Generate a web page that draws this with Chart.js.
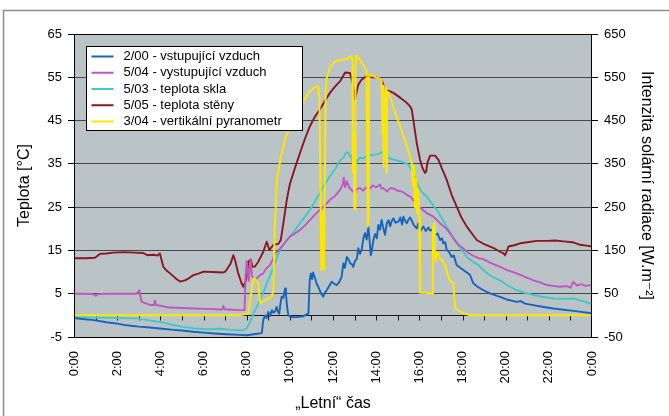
<!DOCTYPE html>
<html>
<head>
<meta charset="utf-8">
<script src="https://cdn.jsdelivr.net/npm/chart.js@4.4.1/dist/chart.umd.min.js"></script>
<style>
  html, body { margin: 0; padding: 0; background: #fff; }
  canvas { display: block; }
</style>
</head>
<body>
<canvas id="chart" width="669" height="416"></canvas>
<script>
// Measured day profile: [hour, value] readings per sensor
const timeLabels = ['0:00', '2:00', '4:00', '6:00', '8:00', '10:00', '12:00', '14:00', '16:00', '18:00', '20:00', '22:00', '0:00'];

const seriesNames = [
  '2/00 - vstupující vzduch',
  '5/04 - vystupující vzduch',
  '5/03 - teplota skla',
  '5/05 - teplota stěny',
  '3/04 - vertikální pyranometr'
];

// 2/00 intake air temperature [°C]
const intakeAir = [[0,-0.6],[0.5,-0.9],[0.93,-1.1],[1.5,-1.6],[2.0,-1.9],[2.44,-2.3],[3.0,-2.6],[3.5,-2.8],[3.98,-3.05],[4.5,-3.3],[5.0,-3.5],[5.53,-3.8],[6.0,-4.0],[6.5,-4.2],[7.07,-4.37],[7.7,-4.5],[8.0,-4.6],[8.4,-4.3],[8.7,-4.1],[8.77,-1.1],[8.85,0.0],[8.92,-0.6],[9.0,0.8],[9.08,-0.2],[9.17,1.2],[9.24,0.6],[9.32,1.0],[9.39,1.95],[9.45,0.8],[9.51,0.4],[9.56,2.5],[9.62,4.3],[9.7,4.0],[9.78,6.2],[9.82,5.0],[9.86,2.5],[9.93,0.0],[10.08,-0.4],[10.3,-0.4],[10.63,-0.2],[10.8,0.3],[10.86,0.4],[10.92,8.0],[10.97,9.7],[11.03,8.4],[11.08,9.9],[11.17,8.5],[11.25,7.2],[11.32,6.6],[11.45,5.0],[11.55,4.3],[11.63,5.3],[11.71,5.8],[11.8,6.6],[11.94,7.75],[12.05,7.3],[12.17,7.0],[12.28,7.6],[12.4,8.9],[12.48,12.0],[12.55,11.0],[12.64,13.5],[12.71,13.0],[12.8,12.0],[12.88,11.8],[12.94,11.2],[13.02,12.6],[13.1,13.0],[13.17,15.5],[13.25,14.2],[13.33,15.2],[13.41,17.8],[13.48,19.0],[13.56,17.5],[13.64,20.5],[13.7,17.0],[13.75,13.9],[13.8,15.0],[13.87,17.4],[13.95,18.8],[14.03,17.8],[14.1,20.9],[14.18,19.8],[14.25,22.05],[14.33,20.2],[14.41,18.6],[14.49,21.2],[14.57,22.0],[14.65,20.6],[14.72,21.8],[14.8,22.4],[14.9,21.4],[15.03,21.65],[15.12,22.6],[15.2,21.0],[15.26,22.8],[15.34,21.8],[15.42,21.3],[15.5,22.2],[15.57,22.6],[15.65,21.9],[15.75,20.8],[15.88,20.1],[15.95,21.2],[16.03,19.3],[16.1,19.9],[16.19,20.5],[16.3,19.5],[16.42,20.3],[16.5,19.6],[16.6,19.8],[16.73,18.6],[16.85,18.9],[16.96,17.4],[17.05,17.8],[17.11,16.65],[17.2,16.9],[17.27,15.1],[17.38,14.6],[17.5,13.5],[17.6,13.8],[17.73,11.6],[17.9,11.0],[18.04,10.5],[18.2,9.9],[18.35,9.3],[18.5,7.4],[18.7,6.6],[18.97,5.8],[19.3,5.0],[19.74,4.27],[20.1,3.6],[20.51,3.1],[20.7,3.3],[20.9,2.7],[21.28,2.35],[21.7,2.0],[22.21,1.58],[22.7,1.3],[23.14,1.03],[23.5,0.8],[23.9,0.56],[24,0.5]];

// 5/04 exhaust air temperature [°C]
const exhaustAir = [[0,5.0],[0.4,5.0],[0.9,4.9],[1.0,4.5],[1.1,4.9],[1.6,5.0],[2.2,5.0],[2.9,5.0],[3.03,5.8],[3.08,4.2],[3.14,3.1],[3.52,2.4],[3.7,2.4],[3.75,3.4],[3.8,2.4],[4.45,1.8],[5.0,1.7],[5.53,1.6],[6.2,1.5],[6.77,1.35],[6.88,1.4],[6.92,2.2],[6.97,1.4],[7.3,1.3],[7.69,1.2],[7.9,1.2],[7.95,9.0],[8.0,12.5],[8.05,10.0],[8.1,8.0],[8.18,12.8],[8.25,9.0],[8.35,8.5],[8.46,8.5],[8.6,9.2],[8.77,9.7],[8.9,10.8],[9.08,11.6],[9.2,12.8],[9.31,14.3],[9.45,14.8],[9.62,15.9],[9.8,17.0],[10.0,18.2],[10.2,18.8],[10.47,19.7],[10.7,20.8],[10.94,22.05],[11.15,23.2],[11.4,24.4],[11.6,25.3],[11.86,26.7],[12.1,27.6],[12.33,29.0],[12.45,30.2],[12.5,31.8],[12.56,29.6],[12.64,31.0],[12.75,29.5],[12.85,29.0],[13.02,28.2],[13.1,29.2],[13.25,29.4],[13.4,28.8],[13.55,29.6],[13.7,29.2],[13.85,30.0],[14.0,29.6],[14.18,30.2],[14.25,29.3],[14.33,29.4],[14.5,28.6],[14.65,29.4],[14.8,29.3],[15.0,28.8],[15.2,28.6],[15.42,27.85],[15.6,27.4],[15.88,25.5],[16.1,24.7],[16.34,23.6],[16.65,22.8],[16.96,21.3],[17.2,20.3],[17.42,19.0],[17.58,17.8],[17.8,16.4],[18.0,15.6],[18.2,14.7],[18.4,14.0],[18.74,13.2],[18.97,13.0],[19.3,12.1],[19.74,11.2],[20.1,10.4],[20.51,9.7],[20.9,8.9],[21.28,8.1],[21.6,7.6],[21.9,7.0],[22.2,6.8],[22.5,6.6],[22.83,6.75],[23.0,6.4],[23.14,7.75],[23.3,6.9],[23.5,7.2],[23.7,6.8],[23.9,7.0],[24,6.8]];

// 5/03 glass temperature [°C]
const glassTemp = [[0,-0.3],[0.5,-0.4],[1.0,-0.5],[1.5,-0.5],[2.0,-0.6],[2.9,-0.7],[3.4,-1.1],[3.98,-1.5],[4.5,-2.1],[5.0,-2.6],[5.53,-3.0],[6.2,-3.2],[6.77,-3.1],[7.2,-3.3],[7.69,-3.45],[7.85,-3.4],[8.0,-3.0],[8.15,-1.6],[8.31,0.4],[8.54,2.7],[8.75,5.0],[8.93,7.4],[9.1,9.4],[9.24,11.2],[9.4,13.3],[9.55,15.1],[9.75,16.6],[10.0,18.2],[10.2,19.4],[10.47,21.3],[10.7,22.8],[10.94,24.4],[11.15,26.2],[11.4,28.4],[11.55,29.8],[11.71,31.0],[11.86,32.1],[12.1,33.8],[12.33,35.8],[12.5,36.5],[12.6,37.6],[12.71,37.6],[12.8,36.6],[12.86,37.0],[12.94,34.4],[12.97,34.0],[13.05,35.0],[13.17,36.0],[13.25,36.4],[13.4,36.3],[13.56,36.8],[13.7,37.0],[13.87,37.1],[14.02,37.2],[14.15,37.4],[14.33,37.8],[14.45,36.8],[14.57,36.4],[14.8,36.0],[15.11,35.6],[15.3,35.3],[15.49,34.8],[15.6,34.0],[15.72,32.9],[15.85,31.2],[15.96,29.8],[16.1,28.6],[16.34,27.45],[16.55,26.0],[16.81,24.4],[17.05,22.4],[17.27,20.5],[17.5,18.5],[17.73,16.65],[18.0,14.9],[18.2,13.5],[18.45,12.5],[18.74,11.6],[19.0,10.3],[19.3,9.1],[19.74,8.1],[20.1,6.9],[20.51,5.8],[20.9,5.2],[21.28,4.7],[21.7,4.3],[22.21,3.9],[22.7,3.8],[23.14,3.9],[23.5,3.4],[23.9,2.8],[24,2.7]];

// 5/05 wall temperature [°C]
const wallTemp = [[0,13.2],[0.5,13.2],[0.97,13.3],[1.2,14.2],[1.5,14.3],[1.8,14.5],[2.3,14.6],[2.8,14.5],[3.2,14.4],[3.4,13.9],[3.7,14.0],[3.85,13.8],[3.98,14.3],[4.14,11.2],[4.3,10.3],[4.45,9.7],[4.7,8.6],[4.91,7.8],[5.14,8.1],[5.3,8.5],[5.53,9.3],[5.8,9.7],[6.0,10.1],[6.4,10.0],[6.92,9.9],[7.0,10.1],[7.08,10.6],[7.25,11.9],[7.38,13.9],[7.46,12.8],[7.61,9.7],[7.75,7.6],[7.85,6.6],[7.97,8.1],[8.08,12.4],[8.19,12.9],[8.27,11.2],[8.38,11.3],[8.54,12.4],[8.77,14.7],[8.93,17.0],[9.05,15.1],[9.24,16.3],[9.47,16.5],[9.58,17.4],[9.7,21.3],[9.86,26.7],[10.0,30.3],[10.2,33.5],[10.47,37.5],[10.7,40.8],[10.93,43.7],[11.15,45.8],[11.4,47.6],[11.63,49.6],[11.86,51.4],[12.1,52.9],[12.33,54.1],[12.56,56.1],[12.79,56.0],[12.91,53.7],[13.02,49.9],[13.17,53.3],[13.33,54.5],[13.56,55.3],[13.79,55.0],[14.02,55.0],[14.25,54.5],[14.35,53.0],[14.41,51.8],[14.57,51.9],[14.8,51.4],[15.11,50.3],[15.42,49.1],[15.57,48.3],[15.65,47.5],[15.72,45.2],[15.8,42.5],[15.88,39.8],[16.03,36.0],[16.15,34.0],[16.26,32.9],[16.32,33.2],[16.37,35.2],[16.5,36.9],[16.73,36.9],[16.88,36.0],[17.04,34.0],[17.27,31.3],[17.5,27.8],[17.73,25.1],[17.95,22.6],[18.2,20.5],[18.45,18.8],[18.66,17.4],[18.95,16.6],[19.28,15.9],[19.5,15.4],[19.74,14.7],[19.9,14.3],[19.97,13.9],[20.05,14.8],[20.13,15.9],[20.4,16.2],[20.67,16.65],[21.0,16.9],[21.44,17.2],[21.9,17.2],[22.3,17.3],[22.67,17.1],[23.1,16.9],[23.45,16.3],[23.75,16.1],[24,15.9]];

// 3/04 vertical pyranometer, solar irradiance [W/m2]
const solarRadiation = [[0,0],[7.69,0],[7.85,2],[8.0,4],[8.08,4],[8.15,30],[8.23,58],[8.3,80],[8.36,87],[8.45,80],[8.54,74],[8.58,50],[8.62,29],[8.9,36],[9.16,43],[9.24,60],[9.3,200],[9.4,313],[9.6,370],[9.8,410],[10.0,435],[10.3,465],[10.6,492],[10.86,514],[11.1,525],[11.32,530],[11.37,500],[11.42,300],[11.46,105],[11.5,110],[11.55,240],[11.58,105],[11.62,300],[11.66,520],[11.71,549],[11.86,572],[12.09,587],[12.33,590],[12.6,592],[12.87,599],[12.9,590],[12.92,330],[12.95,420],[12.98,250],[13.02,245],[13.04,560],[13.07,600],[13.17,595],[13.3,586],[13.45,575],[13.56,564],[13.58,400],[13.61,205],[13.64,230],[13.66,520],[13.68,556],[13.9,552],[14.1,548],[14.25,545],[14.29,420],[14.32,530],[14.35,344],[14.39,500],[14.42,360],[14.45,525],[14.47,330],[14.5,518],[14.57,515],[14.8,480],[15.1,438],[15.4,395],[15.65,352],[15.7,300],[15.75,345],[15.8,250],[15.85,315],[15.9,235],[15.95,290],[16.0,228],[16.03,52],[16.3,52],[16.6,50],[16.63,200],[16.68,213],[16.72,140],[16.76,124],[16.82,145],[16.88,143],[16.96,130],[17.1,126],[17.25,105],[17.4,81],[17.58,74],[17.63,30],[17.68,16],[17.85,10],[18.05,5],[18.35,0],[24,0]];

const FONT = "'Liberation Sans', Arial, 'DejaVu Sans', sans-serif";

const toPoints = rows => rows.map(([h, v]) => ({ x: h, y: v }));

function lineSet(label, rows, color, axis, order, width) {
  return {
    label,
    data: toPoints(rows),
    yAxisID: axis,
    borderColor: color,
    backgroundColor: color,
    borderWidth: width,
    pointRadius: 0,
    tension: 0,
    fill: false,
    order,
    borderJoinStyle: 'round'
  };
}

// Background, outer frame, zero axis with hourly ticks, plot border and the boxed legend
const frameAndLegend = {
  id: 'frameAndLegend',
  beforeDraw(chart) {
    const { ctx, chartArea: a, width, height } = chart;
    ctx.save();
    ctx.fillStyle = '#ffffff';
    ctx.fillRect(0, 0, width, height);
    ctx.strokeStyle = '#8c8c8c';
    ctx.lineWidth = 1.5;
    ctx.strokeRect(3.5, 10.5, width + 20, height + 20);
    ctx.fillStyle = '#bac4c6';
    ctx.fillRect(a.left, a.top, a.right - a.left, a.bottom - a.top);
    ctx.restore();
  },
  beforeDatasetsDraw(chart) {
    const { ctx, chartArea: a, scales } = chart;
    const y0 = Math.round(scales.y.getPixelForValue(0)) + 0.5;
    ctx.save();
    ctx.strokeStyle = '#1a1a1a';
    ctx.lineWidth = 1;
    ctx.beginPath();
    ctx.moveTo(a.left, y0);
    ctx.lineTo(a.right, y0);
    for (let h = 1; h < 24; h++) {
      const x = Math.round(scales.x.getPixelForValue(h)) + 0.5;
      ctx.moveTo(x, y0);
      ctx.lineTo(x, y0 + 5);
    }
    ctx.stroke();
    ctx.restore();
  },
  afterDraw(chart) {
    const { ctx, chartArea: a } = chart;
    ctx.save();
    ctx.strokeStyle = '#000';
    ctx.lineWidth = 1;
    ctx.strokeRect(Math.round(a.left) + 0.5, Math.round(a.top) + 0.5, Math.round(a.right - a.left) - 1, Math.round(a.bottom - a.top));

    // legend box
    const bx = a.left + 12.5, by = a.top + 12.5, bw = 216, bh = 84;
    ctx.fillStyle = '#ffffff';
    ctx.fillRect(bx, by, bw, bh);
    ctx.strokeStyle = '#000';
    ctx.strokeRect(bx, by, bw, bh);
    ctx.font = '13px ' + FONT;
    ctx.textBaseline = 'middle';
    ctx.textAlign = 'left';
    chart.data.datasets.forEach((ds, i) => {
      const cy = by + 10 + i * 16.25;
      ctx.strokeStyle = ds.borderColor;
      ctx.lineWidth = 2;
      ctx.beginPath();
      ctx.moveTo(bx + 5, cy);
      ctx.lineTo(bx + 27, cy);
      ctx.stroke();
      ctx.fillStyle = '#000';
      ctx.fillText(ds.label, bx + 37, cy);
    });
    ctx.restore();
  }
};

new Chart(document.getElementById('chart'), {
  type: 'line',
  data: {
    datasets: [
      lineSet(seriesNames[0], intakeAir, '#1464c0', 'y', 1, 1.9),
      lineSet(seriesNames[1], exhaustAir, '#c055c4', 'y', 2, 1.9),
      lineSet(seriesNames[2], glassTemp, '#40c8c8', 'y', 3, 1.9),
      lineSet(seriesNames[3], wallTemp, '#8c1522', 'y', 4, 1.9),
      lineSet(seriesNames[4], solarRadiation, '#ffe600', 'y2', 0, 2)
    ]
  },
  options: {
    responsive: false,
    animation: false,
    devicePixelRatio: 1,
    layout: { padding: { top: 34, left: 0, right: 0, bottom: 0 } },
    plugins: {
      legend: { display: false },
      tooltip: { enabled: false }
    },
    scales: {
      x: {
        type: 'linear',
        min: 0,
        max: 24,
        position: 'bottom',
        ticks: {
          stepSize: 2,
          autoSkip: false,
          minRotation: 90,
          maxRotation: 90,
          padding: 14,
          color: '#000',
          font: { family: FONT, size: 13 },
          callback: (v, i) => timeLabels[i]
        },
        grid: { display: false, drawTicks: false },
        border: { display: false },
        title: {
          display: true,
          text: '„Letní“ čas',
          color: '#000',
          font: { family: FONT, size: 16 },
          padding: { top: 0, bottom: 3 }
        },
        afterFit: s => { s.height = 79; }
      },
      y: {
        position: 'left',
        min: -5,
        max: 65,
        ticks: { stepSize: 10, color: '#000', padding: 6, font: { family: FONT, size: 13 } },
        grid: { color: '#474747', lineWidth: 1, tickColor: '#000', tickLength: 6 },
        border: { display: false },
        title: {
          display: true,
          text: 'Teplota [°C]',
          color: '#000',
          font: { family: FONT, size: 16 },
          padding: { top: 15, bottom: 0 }
        },
        afterFit: s => { s.width = 74; }
      },
      y2: {
        position: 'right',
        min: -50,
        max: 650,
        ticks: { stepSize: 100, color: '#000', padding: 6, font: { family: FONT, size: 13 } },
        grid: { drawOnChartArea: false, tickColor: '#000', tickLength: 6 },
        border: { display: false },
        title: {
          display: true,
          text: 'Intenzita solární radiace [W.m⁻²]',
          color: '#000',
          font: { family: FONT, size: 16 },
          padding: { top: 13, bottom: 0 }
        },
        afterFit: s => { s.width = 77; }
      }
    }
  },
  plugins: [frameAndLegend]
});
</script>
</body>
</html>
